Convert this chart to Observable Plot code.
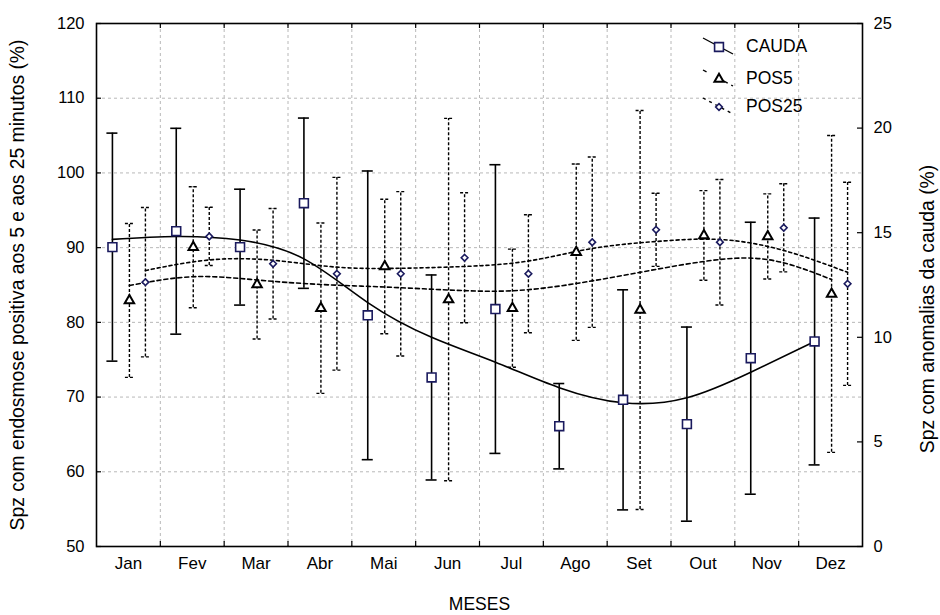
<!DOCTYPE html>
<html>
<head>
<meta charset="utf-8">
<script src="https://cdn.jsdelivr.net/npm/d3@7"></script>
<script src="https://cdn.jsdelivr.net/npm/@observablehq/plot@0.6"></script>
<style>
  html, body { margin: 0; padding: 0; background: #fff; }
  #chart { width: 940px; height: 615px; }
</style>
</head>
<body>
<div id="chart"></div>
<script>
// ---------- data ----------
const months = ["Jan","Fev","Mar","Abr","Mai","Jun","Jul","Ago","Set","Out","Nov","Dez"];

// CAUDA (right axis, %)
const caudaMean = [14.31, 15.07, 14.31, 16.41, 11.05, 8.08, 11.35, 5.75, 7.01, 5.85, 9.0, 9.8];
const caudaErr  = [5.45, 4.92, 2.77, 4.07, 6.9, 4.9, 6.9, 2.04, 5.26, 4.64, 6.5, 5.9];
const caudaFit  = [14.68, 14.82, 14.65, 13.75, 11.66, 10.0, 8.81, 7.59, 6.87, 7.11, 8.33, 9.8];

// POS5 (left axis, %)
const pos5Mean = [82.93, 90.06, 85.07, 81.9, 87.48, 83.05, 81.9, 89.39, 81.65, 91.63, 91.5, 83.8];
const pos5Err  = [10.3, 8.1, 7.3, 11.4, 9.0, 24.25, 7.9, 11.8, 26.7, 6.0, 5.7, 21.2];
const pos5Fit  = [84.93, 86.11, 85.67, 85.07, 84.73, 84.33, 84.23, 85.2, 86.7, 88.15, 88.4, 85.74];

// POS25 (left axis, %)
const pos25Mean = [85.38, 91.5, 87.84, 86.5, 86.5, 88.64, 86.5, 90.73, 92.39, 90.73, 92.66, 85.16];
const pos25Err  = [10.0, 3.9, 7.4, 12.9, 11.0, 8.7, 7.9, 11.4, 4.9, 8.4, 5.9, 13.6];
const pos25Fit  = [86.94, 88.35, 88.31, 87.39, 87.24, 87.48, 88.21, 89.89, 90.82, 91.09, 89.62, 86.7];

const leftTicks  = [50, 60, 70, 80, 90, 100, 110, 120];
const rightTicks = [0, 5, 10, 15, 20, 25];

const leftTitle  = "Spz com endosmose positiva aos 5 e aos 25 minutos (%)";
const rightTitle = "Spz com anomalias da cauda (%)";
const xTitle     = "MESES";
const legendLabels = ["CAUDA", "POS5", "POS25"];

// ---------- layout ----------
const W = 940, H = 615;
const mL = 96, mR = 78, mT = 23, mB = 69;
const plotW = W - mL - mR, plotH = H - mT - mB;
const NAVY = "#1a1a5e";
const FONT = "'Liberation Sans', Arial, sans-serif";

// right axis (0..25) mapped onto left axis (50..120)
const toL = r => 50 + r * (70 / 25);

const rows = months.map((m, i) => ({
  i, m,
  cM: toL(caudaMean[i]), cLo: toL(caudaMean[i] - caudaErr[i]), cHi: toL(caudaMean[i] + caudaErr[i]), cF: toL(caudaFit[i]),
  p5M: pos5Mean[i], p5Lo: pos5Mean[i] - pos5Err[i], p5Hi: pos5Mean[i] + pos5Err[i], p5F: pos5Fit[i],
  p25M: pos25Mean[i], p25Lo: pos25Mean[i] - pos25Err[i], p25Hi: pos25Mean[i] + pos25Err[i], p25F: pos25Fit[i]
}));

const bounds = d3.range(0.5, 11, 1);
const pxPerUnit = plotW / 12;
const capC = 5.5 / pxPerUnit, capD = 4 / pxPerUnit;
const dC = -16, d5 = 1, d25 = 17;
const dash = "3,2";

function errorBars(lo, hi, dx, dashed, cap) {
  const s = {stroke: "black", strokeWidth: dashed ? 1.4 : 1.6, dx, strokeDasharray: dashed ? dash : null};
  return [
    Plot.ruleX(rows, {x: "i", y1: lo, y2: hi, ...s}),
    Plot.ruleY(rows, {y: hi, x1: d => d.i - cap, x2: d => d.i + cap, ...s}),
    Plot.ruleY(rows, {y: lo, x1: d => d.i - cap, x2: d => d.i + cap, ...s})
  ];
}

const chart = Plot.plot({
  width: W, height: H,
  marginLeft: mL, marginRight: mR, marginTop: mT, marginBottom: mB,
  style: {fontFamily: FONT, fontSize: "16px", color: "black", background: "white", overflow: "visible"},
  x: {domain: [-0.5, 11.5]},
  y: {domain: [50, 120]},
  marks: [
    // grid
    Plot.ruleX(bounds, {x: d => d, stroke: "#b8b8b8", strokeDasharray: "3,3", strokeWidth: 1}),
    Plot.ruleY(leftTicks.slice(1, -1), {y: d => d, stroke: "#b8b8b8", strokeDasharray: "3,3", strokeWidth: 1}),

    // fitted curves
    Plot.line(rows, {x: "i", y: "cF", dx: dC, curve: "natural", stroke: "black", strokeWidth: 1.6}),
    Plot.line(rows, {x: "i", y: "p5F", dx: d5, curve: "natural", stroke: "black", strokeWidth: 1.6, strokeDasharray: "4,3"}),
    Plot.line(rows, {x: "i", y: "p25F", dx: d25, curve: "natural", stroke: "black", strokeWidth: 1.6, strokeDasharray: "3,3"}),

    // error bars
    ...errorBars("cLo", "cHi", dC, false, capC),
    ...errorBars("p5Lo", "p5Hi", d5, true, capD),
    ...errorBars("p25Lo", "p25Hi", d25, true, capD),

    // markers
    Plot.dot(rows, {x: "i", y: "cM", dx: dC, symbol: "square", r: 5, stroke: NAVY, fill: "white", strokeWidth: 1.6}),
    Plot.dot(rows, {x: "i", y: "p5M", dx: d5, symbol: "triangle", r: 3.5, stroke: "black", fill: "white", strokeWidth: 2}),
    Plot.dot(rows, {x: "i", y: "p25M", dx: d25, symbol: "diamond2", r: 3, stroke: NAVY, fill: "white", strokeWidth: 1.6}),

    // inward ticks
    Plot.tickY(leftTicks, {y: d => d, insetRight: plotW - 5, stroke: "black", strokeWidth: 1.2}),
    Plot.tickY(rightTicks.map(toL), {y: d => d, insetLeft: plotW - 5, stroke: "black", strokeWidth: 1.2}),
    Plot.tickX(bounds, {x: d => d, insetTop: plotH - 5, stroke: "black", strokeWidth: 1.2}),
    Plot.tickX(bounds, {x: d => d, insetBottom: plotH - 5, stroke: "black", strokeWidth: 1.2}),

    // axes labels
    Plot.axisX({ticks: d3.range(12), tickFormat: i => months[i], tickSize: 0, tickPadding: 10, label: null, fontSize: 17}),
    Plot.axisY({ticks: leftTicks, tickSize: 0, tickPadding: 12, label: null, fontSize: 16.5}),
    Plot.axisY({anchor: "right", ticks: rightTicks.map(toL), tickFormat: d => String(Math.round((d - 50) / 2.8)), tickSize: 0, tickPadding: 11, label: null, fontSize: 16.5}),

    // titles
    Plot.text([leftTitle], {text: d => d, frameAnchor: "left", textAnchor: "middle", lineAnchor: "middle", rotate: -90, dx: -79, fontSize: 19.3}),
    Plot.text([rightTitle], {text: d => d, frameAnchor: "right", textAnchor: "middle", lineAnchor: "middle", rotate: -90, dx: 65, dy: 24, fontSize: 19.3}),
    Plot.text([xTitle], {text: d => d, frameAnchor: "bottom", lineAnchor: "middle", dy: 58, fontSize: 17.5}),

    Plot.frame({stroke: "black", strokeWidth: 1.6})
  ]
});

// ---------- legend ----------
const svg = d3.select(chart);
const lg = svg.append("g").attr("font-family", FONT).attr("font-size", 17.5).attr("text-anchor", "start");
const items = [
  {label: legendLabels[0], sym: d3.symbolSquare, size: 78, stroke: NAVY, sw: 1.6, dashA: null, cy: 46},
  {label: legendLabels[1], sym: d3.symbolTriangle, size: 36, stroke: "black", sw: 2, dashA: "4,16,8", cy: 78},
  {label: legendLabels[2], sym: d3.symbolDiamond2, size: 28, stroke: NAVY, sw: 1.6, dashA: "3,4", cy: 106}
];
items.forEach(it => {
  lg.append("line").attr("x1", 703).attr("y1", it.cy - 8).attr("x2", 733).attr("y2", it.cy + 8)
    .attr("stroke", "black").attr("stroke-width", 1.4).attr("stroke-dasharray", it.dashA);
  lg.append("path").attr("d", d3.symbol(it.sym, it.size)()).attr("transform", `translate(719,${it.cy + 1})`)
    .attr("fill", "white").attr("stroke", it.stroke).attr("stroke-width", it.sw);
  lg.append("text").attr("x", 746).attr("y", it.cy).attr("dy", "0.35em").attr("text-anchor", "start").text(it.label);
});

document.getElementById("chart").appendChild(chart);
</script>
</body>
</html>
